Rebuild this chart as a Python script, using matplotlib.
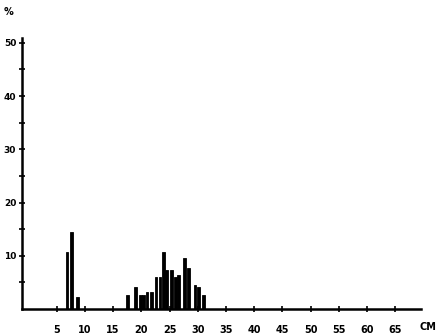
import matplotlib
matplotlib.use("Agg")
import matplotlib.pyplot as plt

# bar centres (cm) and percentages
lengths = [6.8, 7.6, 8.7,
           17.6, 19.0, 19.8, 20.4, 21.0, 21.8, 22.6, 23.3, 23.9, 24.5,
           25.3, 26.0, 26.6, 27.7, 28.3, 29.5, 30.2, 31.0]
percents = [10.7, 14.5, 2.3,
            2.6, 4.1, 2.6, 2.6, 3.2, 3.2, 6.0, 6.0, 10.7, 7.3,
            7.3, 6.0, 6.4, 9.6, 7.7, 4.5, 4.1, 2.6]
x_ticks = [5, 10, 15, 20, 25, 30, 35, 40, 45, 50, 55, 60, 65]
y_ticks = [10, 20, 30, 40, 50]

fig = plt.figure(figsize=(4.45, 3.36), dpi=100)
ax = fig.add_axes([0.049, 0.080, 0.896, 0.807])

ax.bar(lengths, percents, width=0.5, color="black", edgecolor="black", linewidth=0.6)

ax.set_xlim(-1.2, 69.5)
ax.set_ylim(0, 50.9)

for s in ["top", "right"]:
    ax.spines[s].set_visible(False)
for s in ["left", "bottom"]:
    ax.spines[s].set_linewidth(1.8)
    ax.spines[s].set_color("black")

ax.set_xticks(x_ticks)
ax.set_xticklabels([str(v) for v in x_ticks])
ax.set_yticks(y_ticks)
ax.set_yticklabels([str(v) for v in y_ticks])
ax.set_yticks([5, 15, 25, 35, 45], minor=True)

ax.tick_params(axis="x", direction="inout", length=5, width=1.2, pad=9,
               labelsize=7)
ax.tick_params(axis="y", direction="inout", length=5, width=1.2, pad=1.5,
               labelsize=6.5)
ax.tick_params(axis="y", which="minor", direction="inout", length=4, width=1.2)
for lab in ax.get_xticklabels() + ax.get_yticklabels():
    lab.set_fontweight("bold")

fig.text(9 / 445, 1 - 12 / 336, "%", fontsize=7, fontweight="bold",
         ha="center", va="center")
fig.text(428 / 445, 1 - 327 / 336, "CM", fontsize=7, fontweight="bold",
         ha="center", va="center")

fig.savefig("out.png", dpi=100, facecolor="white")
